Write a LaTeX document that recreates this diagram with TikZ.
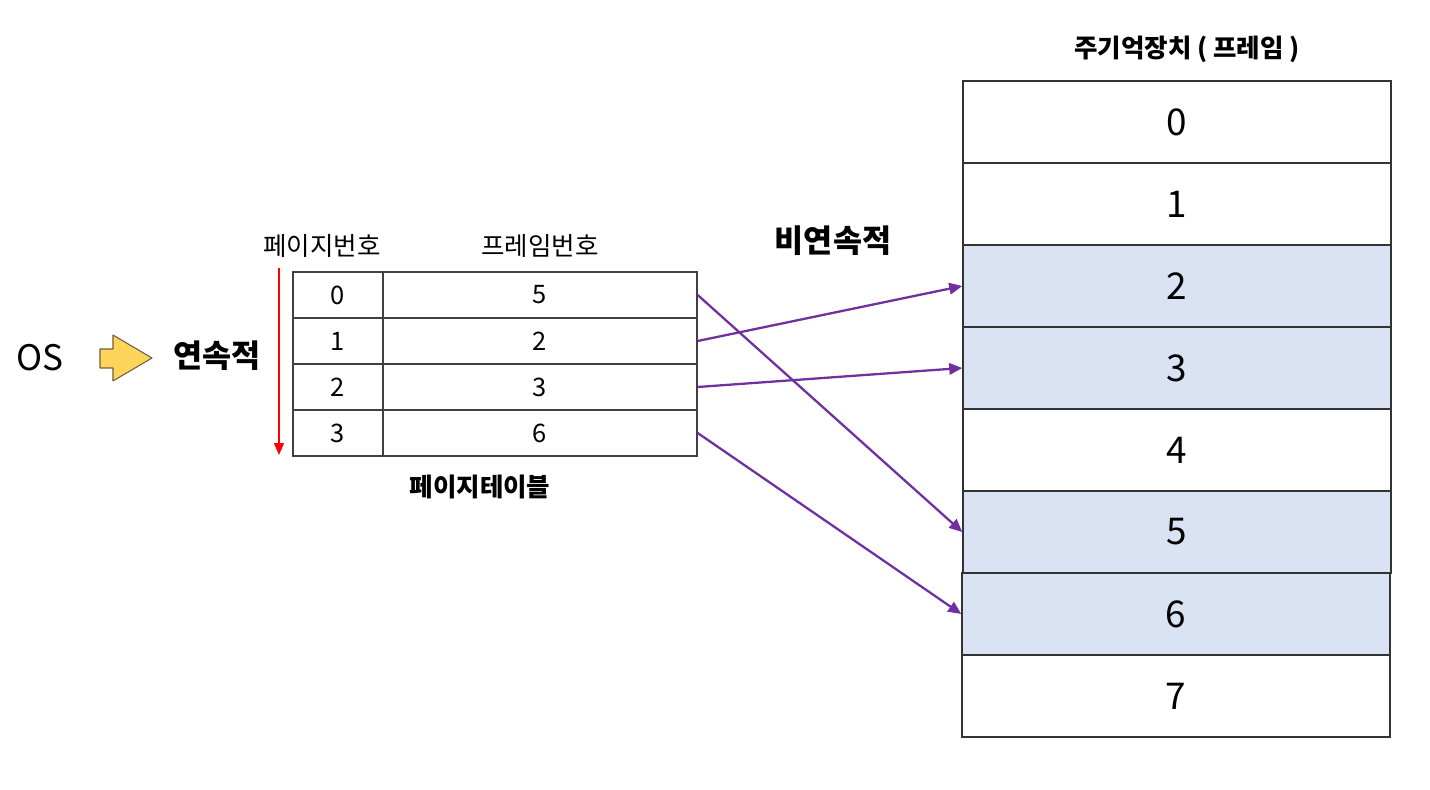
\documentclass[tikz,border=0pt]{standalone}
\usepackage{fontspec}
\setmainfont{Noto Sans CJK KR}
\usetikzlibrary{positioning,arrows.meta}
\definecolor{framefill}{HTML}{DAE3F3}
\definecolor{mapline}{HTML}{7030A0}
\definecolor{osyellow}{HTML}{FFD45A}
\definecolor{osedge}{HTML}{6B6040}

\begin{document}
\begin{tikzpicture}[x=0.02cm,y=-0.02cm,
cell/.style={draw=black!75,line width=0.8pt,inner sep=0,minimum height=0.92cm,
font=\fontsize{14.5}{16}\selectfont},
pagecell/.style={cell,minimum width=1.8cm},
framecell/.style={cell,minimum width=6.28cm},
mem/.style={draw=black!80,line width=0.9pt,inner sep=0,minimum width=8.56cm,
minimum height=1.64cm,fill=white,font=\fontsize{21}{23}\selectfont},
used/.style={mem,fill=framefill},
label/.style={font=\fontsize{14.5}{16}\selectfont},
title/.style={font=\fontsize{18}{20}\selectfont\bfseries},
map/.style={-{Triangle[length=2.6mm,width=2.3mm]},mapline,line width=1.3pt}]
\useasboundingbox (0,0) rectangle (1430,790);
% left side
\node[font=\fontsize{20}{22}\selectfont] (os) at (40,358) {OS};
\draw[osedge,fill=osyellow,line width=0.6pt,line join=round]
(100,349)--(113,349)--(113,335)--(152,358)--(113,381)--(113,368)--(100,368)--cycle;
\node[title] (cont) at (217,356) {연속적};
\coordinate (redtop) at (279,268);
\coordinate (redbot) at (279,455);
\draw[red,line width=0.8pt,-{Triangle[length=2.4mm,width=2mm]}] (redtop)--(redbot);
% page table
\node[pagecell] (p0) at (338,295) {0};
\node[pagecell] (p1) at (338,341) {1};
\node[pagecell] (p2) at (338,387) {2};
\node[pagecell] (p3) at (338,433) {3};
\node[framecell] (f0) at (540,295) {5};
\node[framecell] (f1) at (540,341) {2};
\node[framecell] (f2) at (540,387) {3};
\node[framecell] (f3) at (540,433) {6};
\node[label] (pagehead) at (322,246) {페이지번호};
\node[label] (framehead) at (540,246) {프레임번호};
\node[label,font=\fontsize{14.5}{16}\selectfont\bfseries] (tblname) at (480,487) {페이지테이블};
\node[title] (noncont) at (833,241) {비연속적};
% main memory
\node[font=\fontsize{14.5}{16}\selectfont\bfseries] (memname) at (1187,49) {주기억장치 ( 프레임 )};
\node[mem] (m0) at (1177,122) {0};
\node[mem] (m1) at (1177,204) {1};
\node[used] (m2) at (1177,286) {2};
\node[used] (m3) at (1177,368) {3};
\node[mem] (m4) at (1177,450) {4};
\node[used] (m5) at (1177,532) {5};
\node[used] (m6) at (1176,614) {6};
\node[mem] (m7) at (1176,696) {7};
\draw[map] (f0.east)--(m5.west);
\draw[map] (f1.east)--(m2.west);
\draw[map] (f2.east)--(m3.west);
\draw[map] (f3.east)--(m6.west);
\end{tikzpicture}
\end{document}
